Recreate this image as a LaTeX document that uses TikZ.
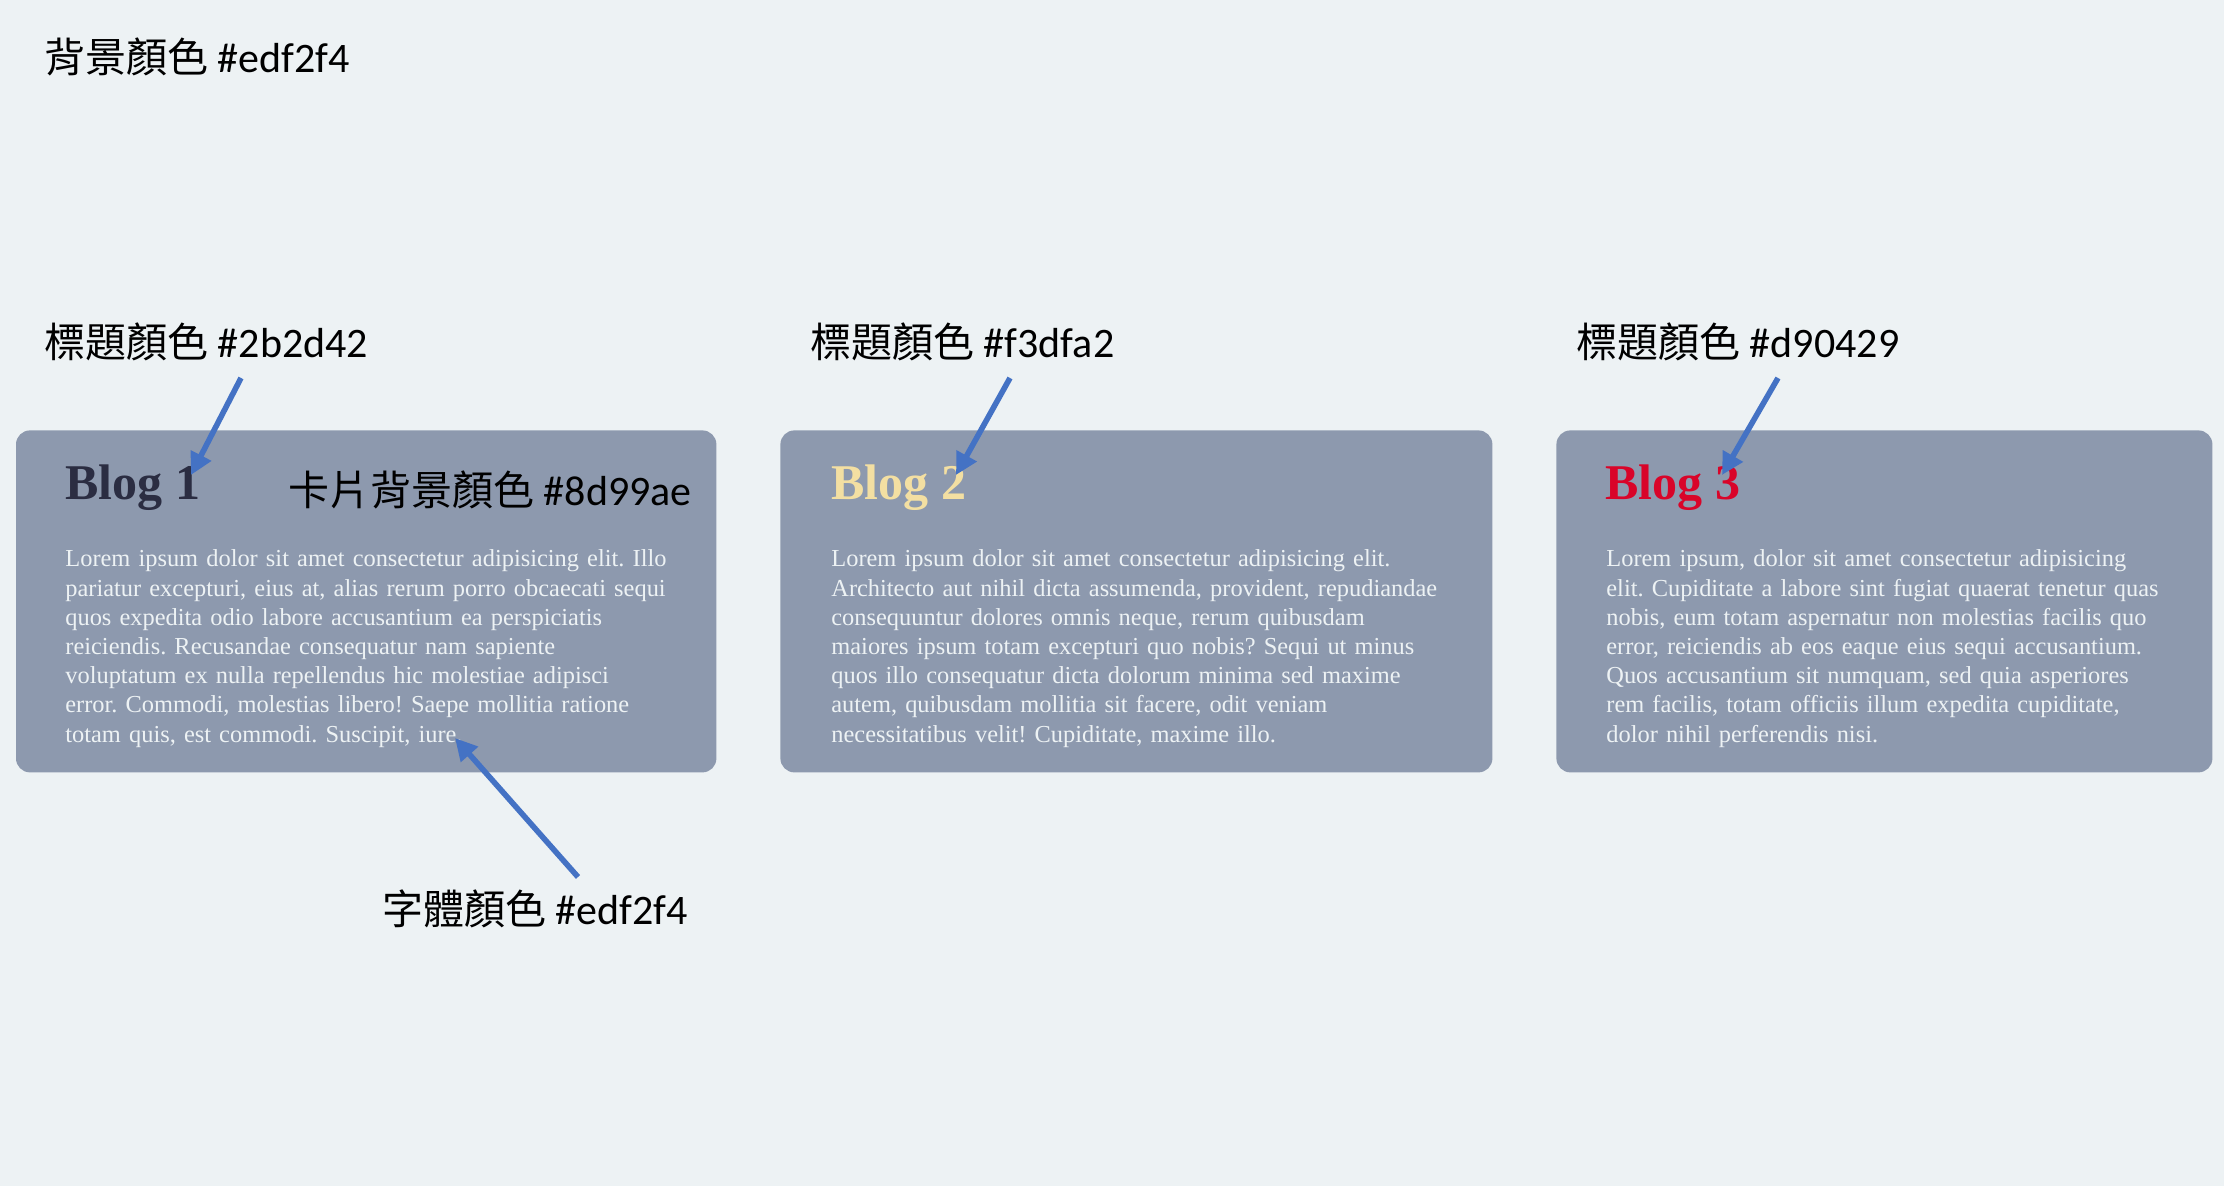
\documentclass[tikz,border=0pt]{standalone}
\usepackage{fontspec}
\setmainfont{Liberation Serif}
\newfontfamily\cjk{Noto Sans CJK TC}
\newfontfamily\lab{Carlito}
\usetikzlibrary{arrows.meta}
\definecolor{bgcol}{HTML}{EDF2F4}
\definecolor{cardcol}{HTML}{8D99AE}
\definecolor{onecol}{HTML}{2B2D42}
\definecolor{twocol}{HTML}{F3DFA2}
\definecolor{threecol}{HTML}{D90429}
\definecolor{arrowcol}{HTML}{4472C4}
\tikzset{
  card/.style      = {fill=cardcol, rounded corners=7pt, anchor=north west, inner sep=0pt, minimum height=171pt},
  blogtitle/.style = {anchor=base west, inner sep=0pt, font=\fontsize{25pt}{30pt}\selectfont\bfseries},
  body/.style      = {anchor=base west, inner sep=0pt, text width=330pt, align=left, text=bgcol, font=\fontsize{12.2pt}{14.6pt}\selectfont\frenchspacing},
  remark/.style    = {anchor=base west, inner sep=0pt, font=\fontsize{21pt}{24pt}\selectfont\lab},
  arrow/.style     = {-{Triangle[length=11pt, width=11pt]}, line width=2.8pt, draw=arrowcol}
}
\newcommand{\colorlabel}[2]{{\cjk\fontsize{20.5pt}{24pt}\selectfont #1} #2}

\begin{document}
\begin{tikzpicture}[x=0.5pt, y=-0.5pt]
  \fill[bgcol] (0,0) rectangle (2224,1186);
  \useasboundingbox (0,0) rectangle (2224,1186);

  % cards
  \node[card, minimum width=350.2pt] (card1) at (15.6,430) {};
  \node[card, minimum width=356pt]   (card2) at (780,430)  {};
  \node[card, minimum width=328pt]   (card3) at (1556,430) {};

  \node[blogtitle, text=onecol]   (blog1) at (65,500)   {Blog 1};
  \node[blogtitle, text=twocol]   (blog2) at (831,500)  {Blog 2};
  \node[blogtitle, text=threecol] (blog3) at (1605,500) {Blog 3};

  \node[body] (text1) at (65,567) {Lorem ipsum dolor sit amet consectetur adipisicing elit. Illo\\
    pariatur excepturi, eius at, alias rerum porro obcaecati sequi\\
    quos expedita odio labore accusantium ea perspiciatis\\
    reiciendis. Recusandae consequatur nam sapiente\\
    voluptatum ex nulla repellendus hic molestiae adipisci\\
    error. Commodi, molestias libero! Saepe mollitia ratione\\
    totam quis, est commodi. Suscipit, iure.};
  \node[body] (text2) at (831,567) {Lorem ipsum dolor sit amet consectetur adipisicing elit.\\
    Architecto aut nihil dicta assumenda, provident, repudiandae\\
    consequuntur dolores omnis neque, rerum quibusdam\\
    maiores ipsum totam excepturi quo nobis? Sequi ut minus\\
    quos illo consequatur dicta dolorum minima sed maxime\\
    autem, quibusdam mollitia sit facere, odit veniam\\
    necessitatibus velit! Cupiditate, maxime illo.};
  \node[body] (text3) at (1606,567) {Lorem ipsum, dolor sit amet consectetur adipisicing\\
    elit. Cupiditate a labore sint fugiat quaerat tenetur quas\\
    nobis, eum totam aspernatur non molestias facilis quo\\
    error, reiciendis ab eos eaque eius sequi accusantium.\\
    Quos accusantium sit numquam, sed quia asperiores\\
    rem facilis, totam officiis illum expedita cupiditate,\\
    dolor nihil perferendis nisi.};

  % colour notes
  \node[remark] (bgnote)   at (44,73)   {\colorlabel{背景顏色}{\#edf2f4}};
  \node[remark] (onenote)  at (44,358)  {\colorlabel{標題顏色}{\#2b2d42}};
  \node[remark] (twonote)  at (810,358) {\colorlabel{標題顏色}{\#f3dfa2}};
  \node[remark] (threenote) at (1576,358) {\colorlabel{標題顏色}{\#d90429}};
  \node[remark] (cardnote) at (288,506) {\colorlabel{卡片背景顏色}{\#8d99ae}};
  \node[remark] (fontnote) at (382,925) {\colorlabel{字體顏色}{\#edf2f4}};

  \coordinate (onefrom)  at (241,378);
  \coordinate (oneto)    at (191,475);
  \coordinate (twofrom)  at (1010,378);
  \coordinate (twoto)    at (956,475);
  \coordinate (threefrom) at (1778,378);
  \coordinate (threeto)  at (1722,475);
  \coordinate (fontfrom) at (578,877);
  \coordinate (fontto)   at (455,738);

  \draw[arrow] (onefrom) -- (oneto);
  \draw[arrow] (twofrom) -- (twoto);
  \draw[arrow] (threefrom) -- (threeto);
  \draw[arrow] (fontfrom) -- (fontto);
\end{tikzpicture}
\end{document}
